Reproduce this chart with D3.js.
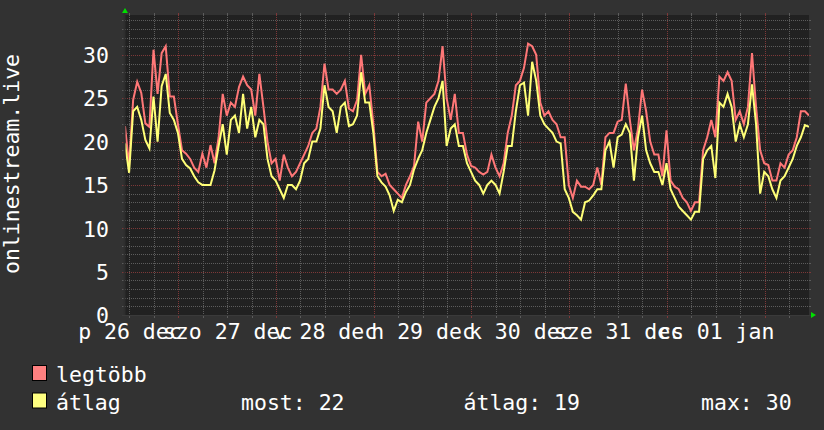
<!DOCTYPE html>
<html><head><meta charset="utf-8">
<script src="https://cdn.jsdelivr.net/npm/d3@7"></script>
<style>
html,body{margin:0;padding:0;background:#323232;}
svg{display:block;}
text{font-family:"DejaVu Sans Mono",monospace;font-size:21.5px;fill:#ffffff;}
</style></head><body>
<svg id="c" width="824" height="430"></svg>
<script>
// ---- data ----
const startTime = "2025-12-26T10:55:00Z";
const endTime = "2026-01-02T10:55:00Z";
const stepMinutes = 60;
const maxValues = [
21.8,17.3,24.8,26.9,25.6,22.1,21.7,30.6,25.5,30.2,31.0,25.2,25.2,22.0,19.0,18.6,18.0,17.0,16.5,18.6,
17.0,19.6,17.5,20.5,25.5,23.0,24.5,24.0,26.3,27.5,26.5,26.0,23.0,27.8,24.0,20.0,17.5,18.0,15.5,18.5,
17.0,16.0,16.5,17.5,18.5,19.5,21.0,21.5,24.0,29.0,26.0,26.0,25.5,26.0,27.0,23.8,23.5,24.8,30.0,25.5,
26.5,22.0,16.5,16.0,16.3,15.0,14.5,14.0,13.5,15.0,16.0,17.2,22.3,20.0,24.5,25.0,25.5,27.0,31.0,25.0,
22.5,25.5,21.0,21.0,18.5,17.2,17.0,16.5,16.2,16.5,18.5,17.0,16.0,17.5,21.0,23.0,26.5,27.0,28.5,31.3,
31.0,30.0,24.5,23.0,23.5,22.5,22.0,20.5,20.5,15.0,13.5,15.5,14.8,14.8,14.5,15.0,17.0,15.0,20.5,21.0,
21.0,22.3,22.5,26.7,22.5,19.0,21.5,26.0,23.5,20.0,18.5,18.5,16.0,21.3,15.5,14.8,14.5,13.5,13.0,12.0,
13.0,13.0,19.0,20.5,22.5,20.5,27.5,27.0,28.0,27.0,22.5,23.5,22.0,24.0,30.2,24.0,19.0,17.5,17.3,15.5,
15.5,17.5,17.0,18.5,19.0,20.5,23.5,23.5,23.0];
const avgValues = [
19.8,16.4,23.5,24.0,22.5,20.2,19.2,25.2,20.0,26.4,27.8,23.3,22.5,21.0,18.0,17.3,16.9,16.0,15.3,15.0,
15.0,15.0,16.7,19.5,22.0,18.5,22.5,23.0,21.0,25.5,21.5,24.0,20.5,22.5,22.0,18.0,16.0,15.5,14.5,13.5,
15.0,15.0,14.5,15.5,17.5,18.0,20.0,20.0,21.5,26.5,24.0,23.5,21.0,24.0,24.5,21.8,22.0,23.0,28.0,24.5,
24.5,21.0,16.0,15.3,14.8,13.8,12.0,13.3,13.0,14.2,15.0,16.8,18.0,19.0,21.0,22.5,24.0,25.0,27.0,19.5,
21.5,22.0,19.5,19.5,17.5,16.5,15.5,15.0,14.0,15.0,15.5,15.0,14.0,16.5,19.5,19.5,23.5,26.5,26.8,23.0,
29.2,27.0,23.0,22.0,21.5,21.0,20.0,19.8,14.5,13.5,11.9,11.5,11.0,13.0,13.2,13.8,14.5,14.5,19.0,20.0,
17.0,20.5,20.8,22.0,21.0,15.5,20.5,23.0,19.0,17.5,16.5,16.5,15.0,17.5,14.5,13.5,12.5,12.0,11.5,11.0,
11.9,11.9,18.0,19.0,19.5,15.8,24.5,24.0,25.5,24.0,20.0,22.0,20.5,22.0,26.6,22.0,14.0,16.5,16.0,14.5,
13.5,15.5,16.0,17.0,18.0,19.5,20.5,21.9,21.7];
const yTicks = [0,5,10,15,20,25,30];
const dayTicks = ["2025-12-26T12:00:00Z","2025-12-27T12:00:00Z","2025-12-28T12:00:00Z","2025-12-29T12:00:00Z",
                  "2025-12-30T12:00:00Z","2025-12-31T12:00:00Z","2026-01-01T12:00:00Z"];
const dayLabels = ["p 26 dec","szo 27 dec","v 28 dec","h 29 dec","k 30 dec","sze 31 dec","cs 01 jan"];
const seriesNames = ["legtöbb","átlag"];
const seriesColors = ["#ff7777","#ffff77"];
const legendBox = ["#ff8080","#ffff80"];
const statLabels = ["most: 22","átlag: 19","max: 30"];
const yTitle = "onlinestream.live";
const yMax = 34.6;

// ---- layout ----
const L = 125, R = 809, T = 15, B = 315;
const svg = d3.select("#c");
const t0 = new Date(startTime), t1 = new Date(endTime);
const x = d3.scaleUtc().domain([t0, t1]).range([L, R]);
const y = d3.scaleLinear().domain([0, yMax]).range([B, T]);
const timeAt = i => new Date(t0.getTime() + i * stepMinutes * 60000);

svg.append("rect").attr("width",824).attr("height",430).attr("fill","#323232");
svg.append("rect").attr("x",L).attr("y",T).attr("width",R-L).attr("height",B-T).attr("fill","#212121");

const minorCol = "#5c5c5c", majorCol = "#7d3838";
const g = svg.append("g").attr("shape-rendering","crispEdges");

// horizontal grid
const hMinor = d3.range(1, Math.floor(yMax)+1).filter(v => v % 5 !== 0);
const hMajor = yTicks.filter(v => v > 0);
function hLine(v, col){
  const yy = Math.round(y(v)) + 0.5;
  g.append("line").attr("x1",L).attr("x2",R).attr("y1",yy).attr("y2",yy)
    .attr("stroke",col).attr("stroke-dasharray","1,1");
  g.append("line").attr("x1",L-3).attr("x2",L).attr("y1",yy).attr("y2",yy).attr("stroke",col);
  g.append("line").attr("x1",R).attr("x2",R+2).attr("y1",yy).attr("y2",yy).attr("stroke",col);
}
hMinor.forEach(v => hLine(v, minorCol));
hMajor.forEach(v => hLine(v, majorCol));

// vertical grid
const vAll = x.ticks(d3.utcHour.every(6));
const vMinor = vAll.filter(d => d.getUTCHours() !== 0);
const vMajor = x.ticks(d3.utcDay.every(1));
function vLine(d, col){
  const xx = Math.round(x(d)) + 0.5;
  g.append("line").attr("x1",xx).attr("x2",xx).attr("y1",T).attr("y2",B)
    .attr("stroke",col).attr("stroke-dasharray","1,1");
  g.append("line").attr("x1",xx).attr("x2",xx).attr("y1",T-2.5).attr("y2",T).attr("stroke",col);
  g.append("line").attr("x1",xx).attr("x2",xx).attr("y1",B).attr("y2",B+3).attr("stroke",col);
}
vMinor.forEach(d => vLine(d, minorCol));
vMajor.forEach(d => vLine(d, majorCol));

// clip
svg.append("clipPath").attr("id","clip").append("rect")
  .attr("x",L).attr("y",T).attr("width",R-L).attr("height",B-T);

const line = d3.line().x((d,i) => x(timeAt(i))).y(d => y(d));
[maxValues, avgValues].forEach((arr, k) => {
  svg.append("path").attr("clip-path","url(#clip)")
    .attr("d", line(arr)).attr("fill","none")
    .attr("stroke", seriesColors[k]).attr("stroke-width",2)
    .attr("stroke-linejoin","miter");
});

// axes lines
svg.append("line").attr("x1",L-0.5).attr("x2",L-0.5).attr("y1",13).attr("y2",B+1)
  .attr("stroke","#2e2e2e").attr("stroke-width",2);
svg.append("line").attr("x1",L-3).attr("x2",811).attr("y1",B+0.5).attr("y2",B+0.5)
  .attr("stroke","#3a3a3a").attr("stroke-width",1);
// arrows
svg.append("path").attr("d","M125,8 L128,13 L122,13 Z").attr("fill","#00e000");
svg.append("path").attr("d","M816,315 L811,312 L811,318 Z").attr("fill","#00e000");

// y tick labels
const yAxis = d3.axisLeft(y).tickValues(yTicks).tickSize(0).tickPadding(16).tickFormat(d3.format("d"));
const ya = svg.append("g").attr("transform",`translate(${L},0)`).call(yAxis);
ya.select(".domain").remove();
ya.selectAll("text").attr("dy","0.36em").attr("fill","#ffffff")
  .style("font-family","DejaVu Sans Mono").style("font-size","21.5px");

// x labels
const xAxis = d3.axisBottom(x).tickValues(dayTicks.map(s => new Date(s)))
  .tickSize(0).tickPadding(0).tickFormat((d,i) => dayLabels[i]);
const xa = svg.append("g").attr("transform",`translate(0,${B})`).call(xAxis);
xa.select(".domain").remove();
xa.selectAll("text").attr("dy",null).attr("y",23.5).attr("fill","#ffffff")
  .style("font-family","DejaVu Sans Mono").style("font-size","21.5px");

// y title
svg.append("text").attr("transform","translate(19,164) rotate(-90)")
  .attr("text-anchor","middle").text(yTitle);

// legend
const legY = [382, 409.5];
seriesNames.forEach((n,k) => {
  svg.append("rect").attr("x",32.5).attr("y",legY[k]-16.5).attr("width",14).attr("height",15)
    .attr("fill",legendBox[k]).attr("stroke","#000").attr("stroke-width",1);
  svg.append("text").attr("x",56).attr("y",legY[k]).text(n);
});
const statX = [241, 463.5, 701];
statLabels.forEach((s,k) => {
  svg.append("text").attr("x",statX[k]).attr("y",legY[1]).text(s);
});
</script>
</body></html>
